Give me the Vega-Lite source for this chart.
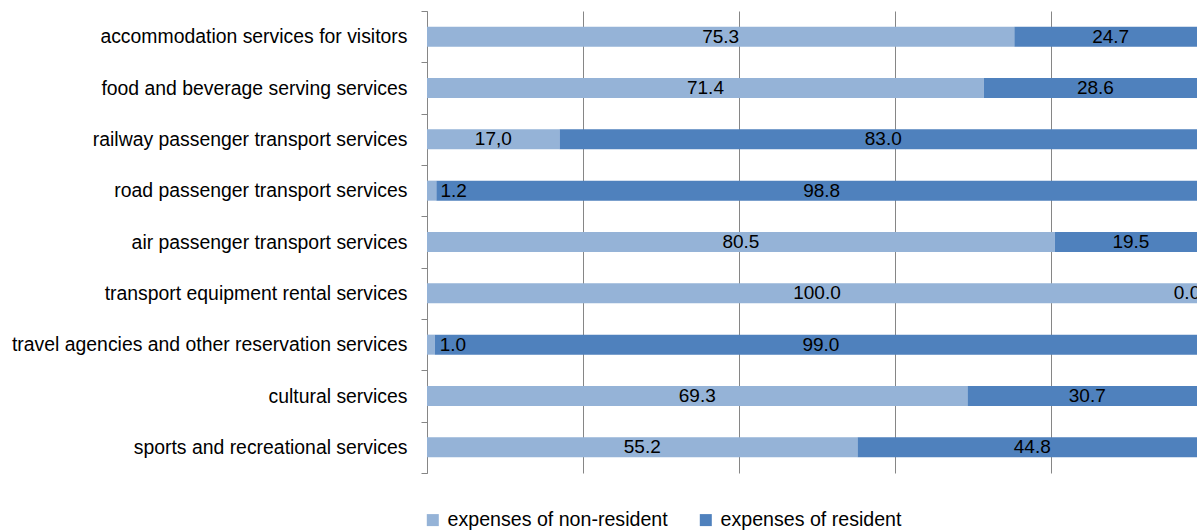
{
  "$schema": "https://vega.github.io/schema/vega-lite/v6.json",
  "width": 770,
  "height": 462,
  "autosize": "none",
  "padding": {"left": 427, "top": 11, "right": 0, "bottom": 58},
  "background": "white",
  "config": {"view": {"stroke": null}, "font": "Liberation Sans"},
  "data": {
    "values": [
      {"category": "accommodation services for visitors", "type": "expenses of non-resident", "value": 75.3, "label": "75.3"},
      {"category": "accommodation services for visitors", "type": "expenses of resident", "value": 24.7, "label": "24.7"},
      {"category": "food and beverage serving services", "type": "expenses of non-resident", "value": 71.4, "label": "71.4"},
      {"category": "food and beverage serving services", "type": "expenses of resident", "value": 28.6, "label": "28.6"},
      {"category": "railway passenger transport services", "type": "expenses of non-resident", "value": 17.0, "label": "17,0"},
      {"category": "railway passenger transport services", "type": "expenses of resident", "value": 83.0, "label": "83.0"},
      {"category": "road passenger transport services", "type": "expenses of non-resident", "value": 1.2, "label": "1.2"},
      {"category": "road passenger transport services", "type": "expenses of resident", "value": 98.8, "label": "98.8"},
      {"category": "air passenger transport services", "type": "expenses of non-resident", "value": 80.5, "label": "80.5"},
      {"category": "air passenger transport services", "type": "expenses of resident", "value": 19.5, "label": "19.5"},
      {"category": "transport equipment rental services", "type": "expenses of non-resident", "value": 100.0, "label": "100.0"},
      {"category": "transport equipment rental services", "type": "expenses of resident", "value": 0.0, "label": "0.0"},
      {"category": "travel agencies and other reservation services", "type": "expenses of non-resident", "value": 1.0, "label": "1.0"},
      {"category": "travel agencies and other reservation services", "type": "expenses of resident", "value": 99.0, "label": "99.0"},
      {"category": "cultural services", "type": "expenses of non-resident", "value": 69.3, "label": "69.3"},
      {"category": "cultural services", "type": "expenses of resident", "value": 30.7, "label": "30.7"},
      {"category": "sports and recreational services", "type": "expenses of non-resident", "value": 55.2, "label": "55.2"},
      {"category": "sports and recreational services", "type": "expenses of resident", "value": 44.8, "label": "44.8"}
    ]
  },
  "transform": [
    {"stack": "value", "groupby": ["category"], "sort": [{"field": "type", "order": "ascending"}], "as": ["x0", "x1"]},
    {"calculate": "(datum.x0 + datum.x1) / 2", "as": "xm"}
  ],
  "encoding": {
    "y": {
      "field": "category",
      "type": "nominal",
      "sort": null,
      "scale": {"paddingInner": 0, "paddingOuter": 0},
      "axis": {
        "title": null,
        "labelFontSize": 19.4,
        "labelColor": "#000000",
        "labelPadding": 14,
        "tickSize": 6,
        "tickColor": "#868686",
        "tickBand": "extent",
        "domainColor": "#868686",
        "labelLimit": 0,
        "grid": false
      }
    }
  },
  "layer": [
    {
      "mark": {"type": "bar", "height": {"band": 0.39}, "clip": true},
      "encoding": {
        "x": {
          "field": "x0",
          "type": "quantitative",
          "scale": {"domain": [0, 98.72], "nice": false, "zero": false},
          "axis": {
            "values": [0, 20, 40, 60, 80, 100],
            "labels": false,
            "ticks": false,
            "domain": false,
            "grid": true,
            "gridColor": "#868686",
            "gridWidth": 1,
            "title": null
          }
        },
        "x2": {"field": "x1"},
        "color": {
          "field": "type",
          "type": "nominal",
          "scale": {"domain": ["expenses of non-resident", "expenses of resident"], "range": ["#95B3D7", "#4F81BD"]},
          "legend": {
            "title": null,
            "orient": "none",
            "legendX": -4,
            "legendY": 499,
            "direction": "horizontal",
            "symbolType": "square",
            "symbolSize": 144,
            "symbolStrokeWidth": 0,
            "labelFontSize": 19.6,
            "labelColor": "#000000",
            "labelOffset": 5,
            "labelLimit": 0,
            "columnPadding": 28
          }
        }
      }
    },
    {
      "mark": {
        "type": "text",
        "clip": true,
        "fontSize": 19,
        "color": "#000000",
        "baseline": "middle",
        "align": "center",
        "dx": {"expr": "datum.value > 0 && datum.value < 5 ? 22 : (datum.value == 0 ? -20 : 0)"}
      },
      "encoding": {
        "x": {"field": "xm", "type": "quantitative"},
        "text": {"field": "label"}
      }
    }
  ]
}
